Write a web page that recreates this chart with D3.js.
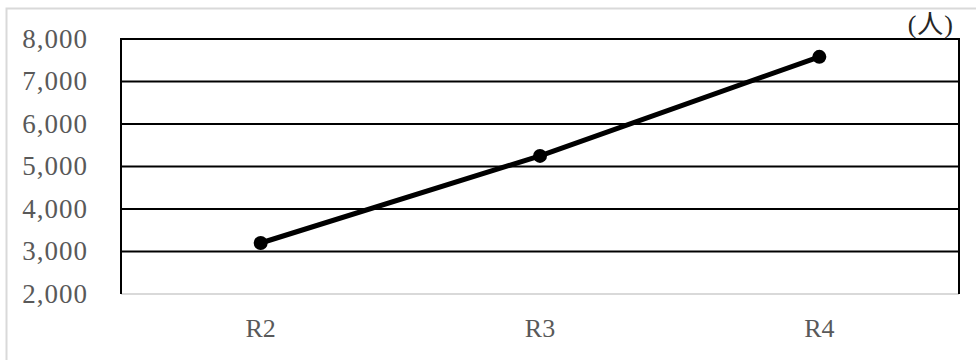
<!DOCTYPE html>
<html>
<head>
<meta charset="utf-8">
<script src="https://cdn.jsdelivr.net/npm/d3@7/dist/d3.min.js"></script>
<style>
  html, body { margin: 0; padding: 0; background: #fff; }
  svg { display: block; }
</style>
</head>
<body>
<svg id="chart" width="976" height="360"></svg>
<script>
// Number of people per fiscal year
const categories = ["R2", "R3", "R4"];
const people = [3200, 5250, 7580];
const yTicks = [2000, 3000, 4000, 5000, 6000, 7000, 8000];
const unitLabel = "(人)";

const svg = d3.select("#chart");
const W = 976, H = 360;
const plot = { left: 121, right: 959, top: 39, bottom: 294 };

// outer chart frame
svg.append("rect")
  .attr("x", 6.5).attr("y", 8.5)
  .attr("width", W + 10).attr("height", H + 10)
  .attr("fill", "#fff")
  .attr("stroke", "#d9d9d9").attr("stroke-width", 2);

const x = d3.scaleBand().domain(categories).range([plot.left, plot.right]);
const y = d3.scaleLinear().domain([2000, 8000]).range([plot.bottom, plot.top]);

// horizontal gridlines
svg.append("g")
  .selectAll("line")
  .data(yTicks.filter(d => d > 2000))
  .join("line")
  .attr("x1", plot.left).attr("x2", plot.right)
  .attr("y1", d => y(d)).attr("y2", d => y(d))
  .attr("stroke", "#000").attr("stroke-width", 2);

// bottom axis line
svg.append("line")
  .attr("x1", plot.left).attr("x2", plot.right)
  .attr("y1", y(2000)).attr("y2", y(2000))
  .attr("stroke", "#d9d9d9").attr("stroke-width", 2);

// left and right borders of plot area
svg.append("line")
  .attr("x1", plot.left).attr("x2", plot.left)
  .attr("y1", plot.top - 1).attr("y2", plot.bottom)
  .attr("stroke", "#000").attr("stroke-width", 2);
svg.append("line")
  .attr("x1", plot.right).attr("x2", plot.right)
  .attr("y1", plot.top - 1).attr("y2", plot.bottom)
  .attr("stroke", "#000").attr("stroke-width", 2);

// y axis labels
const yAxis = d3.axisLeft(y).tickValues(yTicks).tickFormat(d3.format(",")).tickSize(0).tickPadding(0);
const gy = svg.append("g").attr("transform", `translate(${plot.left - 33},0)`).call(yAxis);
gy.select(".domain").remove();
gy.selectAll("text")
  .attr("font-family", "'Liberation Serif', 'DejaVu Serif', serif")
  .attr("font-size", 27)
  .attr("letter-spacing", 1)
  .attr("fill", "#595959")
  .attr("dy", "0.3em");

// x axis labels
const xAxis = d3.axisBottom(x).tickSize(0).tickPadding(0);
const gx = svg.append("g").attr("transform", `translate(0,${plot.bottom + 25})`).call(xAxis);
gx.select(".domain").remove();
gx.selectAll("text")
  .attr("font-family", "'Liberation Serif', 'DejaVu Serif', serif")
  .attr("font-size", 26)
  .attr("fill", "#595959")
  .attr("dy", "0.71em");

// data line
const pts = categories.map((c, i) => [x(c) + x.bandwidth() / 2, y(people[i])]);
svg.append("path")
  .attr("d", d3.line()(pts))
  .attr("fill", "none")
  .attr("stroke", "#000")
  .attr("stroke-width", 5)
  .attr("stroke-linejoin", "round");

svg.append("g")
  .selectAll("circle")
  .data(pts)
  .join("circle")
  .attr("cx", d => d[0]).attr("cy", d => d[1])
  .attr("r", 7)
  .attr("fill", "#000");

// unit label
svg.append("text")
  .attr("x", 954).attr("y", 33)
  .attr("text-anchor", "end")
  .attr("font-family", "'Liberation Serif', 'Noto Sans CJK JP', serif")
  .attr("font-size", 26)
  .attr("letter-spacing", 1)
  .attr("fill", "#262626")
  .text(unitLabel);
</script>
</body>
</html>
